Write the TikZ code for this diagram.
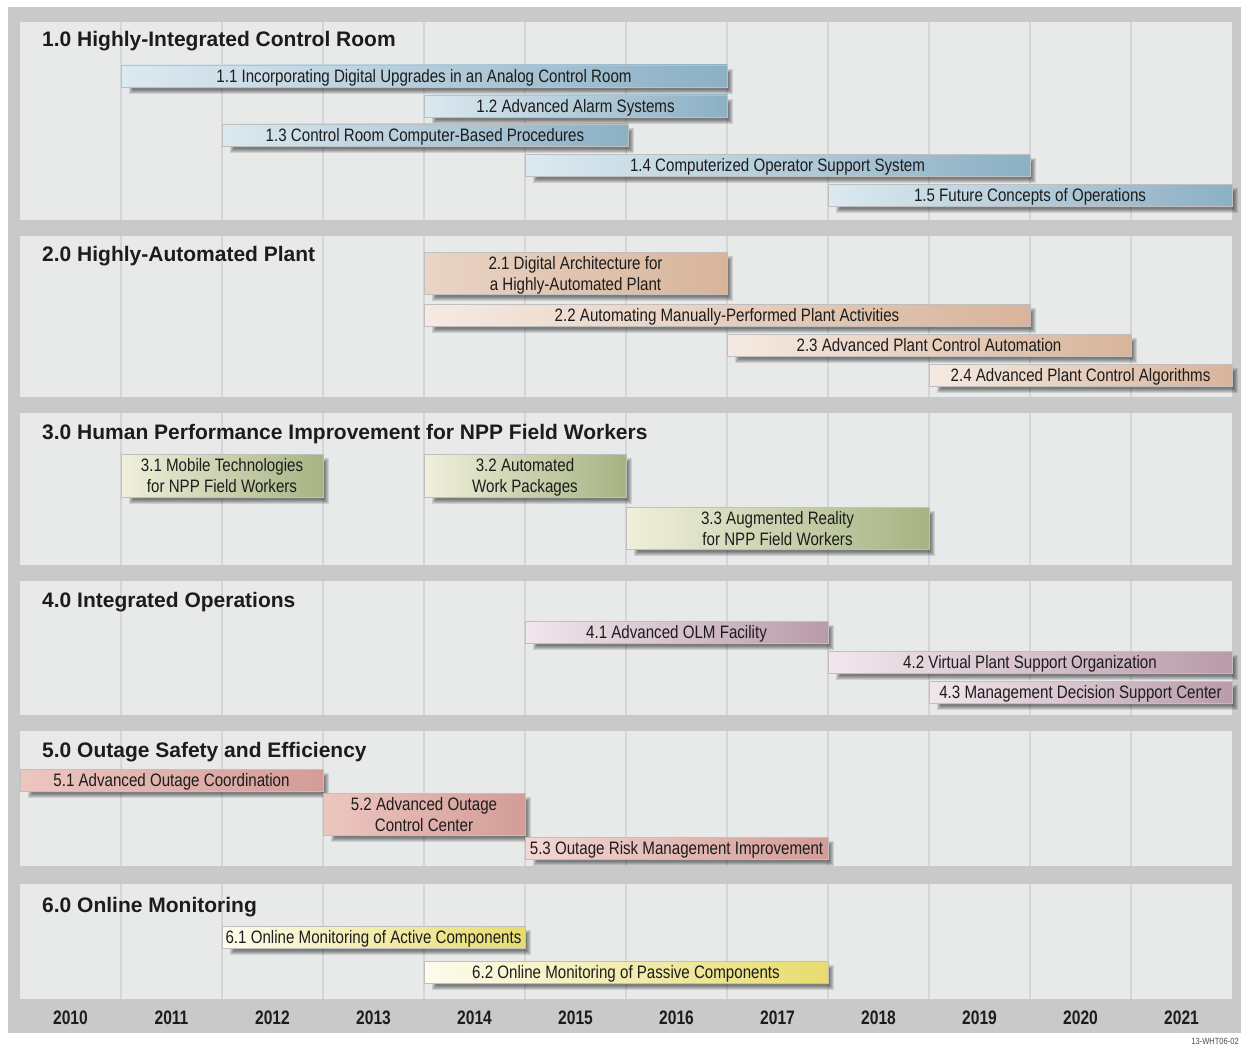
\documentclass[tikz,border=0pt]{standalone}
\usepackage{fontspec}
\setmainfont{Liberation Sans}
\newfontfamily\barfont[FakeStretch=0.84]{Liberation Sans}
\newfontfamily\yearfont[FakeStretch=0.8]{Liberation Sans}
\definecolor{bggray}{HTML}{C9C9C9}
\definecolor{panelcol}{HTML}{E8EAEA}
\definecolor{gridcol}{HTML}{D3D5D6}
\definecolor{txtcol}{HTML}{1C1C1C}
\definecolor{bluL}{HTML}{DCE9F0}\definecolor{bluR}{HTML}{8CB0C4}
\definecolor{peaL}{HTML}{F5EAE2}\definecolor{peaR}{HTML}{D8B49A}
\definecolor{grnL}{HTML}{F0F0DC}\definecolor{grnR}{HTML}{A6B382}
\definecolor{mauL}{HTML}{F2E7ED}\definecolor{mauR}{HTML}{B99BAA}
\definecolor{salL}{HTML}{EDC6C0}\definecolor{salR}{HTML}{D39C97}
\definecolor{yelL}{HTML}{FDFCEE}\definecolor{yelR}{HTML}{E8DC6E}
\tikzset{
  barbox/.style={rectangle, inner sep=0pt, draw=black!25, line width=0.5pt,
    text=txtcol, align=center, font=\barfont\fontsize{18}{21}\selectfont,
    text height=13pt, text depth=0pt},
  twoline/.style={text height=34pt, text depth=0pt},
  titlelbl/.style={inner sep=0pt, anchor=base west, text=txtcol,
    font=\bfseries\fontsize{21}{25}\selectfont},
  yearlbl/.style={inner sep=0pt, anchor=base, text=txtcol,
    font=\yearfont\bfseries\fontsize{19.5}{22}\selectfont},
  gridline/.style={draw=gridcol, line width=1.1pt},
}
% #1 extra style, #2 name, #3 x1, #4 x2, #5 y1, #6 y2, #7 left colour, #8 right colour, #9 text
\newcommand\ganttbar[9][]{%
  \foreach \k in {0,...,4}{%
    \fill[black,opacity=0.115] ({#3+12-\k},{#5+8-\k}) rectangle ({#4+2+\k},{#6+3+\k});}
  \node[barbox, #1, left color=#7, right color=#8,
        minimum width={(#4-#3)*1pt}, minimum height={(#6-#5)*1pt}]
        (#2) at ({(#3+#4)/2},{(#5+#6)/2}) {#9};
}
\newcommand\panel[2]{%
  \fill[panelcol] (20,#1) rectangle (1232,#2);
  \foreach \i in {1,...,11}{\draw[gridline] ({20+101*\i},#1) -- ({20+101*\i},#2);}
}
\begin{document}
\begin{tikzpicture}[x=1pt,y=-1pt]
\useasboundingbox (0,0) rectangle (1241,1046);
\fill[white] (0,0) rectangle (1241,1046);
\fill[bggray] (8,7) rectangle (1241,1033);
\panel{22}{220}
\panel{236}{397}
\panel{413}{565}
\panel{581}{715}
\panel{731}{866}
\panel{884}{999}
% titles
\node[titlelbl] (t1) at (42,47) {1.0 Highly-Integrated Control Room};
\node[titlelbl] (t2) at (42,261) {2.0 Highly-Automated Plant};
\node[titlelbl] (t3) at (42,439) {3.0 Human Performance Improvement for NPP Field Workers};
\node[titlelbl] (t4) at (42,607) {4.0 Integrated Operations};
\node[titlelbl] (t5) at (42,757) {5.0 Outage Safety and Efficiency};
\node[titlelbl] (t6) at (42,912) {6.0 Online Monitoring};
% bars 1
\ganttbar{b11}{121}{727}{65}{87}{bluL}{bluR}{1.1 Incorporating Digital Upgrades in an Analog Control Room}
\ganttbar{b12}{424}{727}{95}{117}{bluL}{bluR}{1.2 Advanced Alarm Systems}
\ganttbar{b13}{222}{628}{124}{146}{bluL}{bluR}{1.3 Control Room Computer-Based Procedures}
\ganttbar{b14}{525}{1030}{154}{176}{bluL}{bluR}{1.4 Computerized Operator Support System}
\ganttbar{b15}{828}{1232}{184}{206}{bluL}{bluR}{1.5 Future Concepts of Operations}
% bars 2
\ganttbar[twoline]{b21}{424}{727}{252}{294}{peaL!60!peaR}{peaR}{2.1 Digital Architecture for\\a Highly-Automated Plant}
\ganttbar{b22}{424}{1030}{304}{326}{peaL}{peaR}{2.2 Automating Manually-Performed Plant Activities}
\ganttbar{b23}{727}{1131}{334}{356}{peaL}{peaR}{2.3 Advanced Plant Control Automation}
\ganttbar{b24}{929}{1232}{364}{386}{peaL}{peaR}{2.4 Advanced Plant Control Algorithms}
% bars 3
\ganttbar[twoline]{b31}{121}{323}{454}{497}{grnL}{grnR}{3.1 Mobile Technologies\\for NPP Field Workers}
\ganttbar[twoline]{b32}{424}{626}{454}{497}{grnL}{grnR}{3.2 Automated\\Work Packages}
\ganttbar[twoline]{b33}{626}{929}{507}{549}{grnL}{grnR}{3.3 Augmented Reality\\for NPP Field Workers}
% bars 4
\ganttbar{b41}{525}{828}{621}{643}{mauL}{mauR}{4.1 Advanced OLM Facility}
\ganttbar{b42}{828}{1232}{651}{673}{mauL}{mauR}{4.2 Virtual Plant Support Organization}
\ganttbar{b43}{929}{1232}{681}{703}{mauL}{mauR}{4.3 Management Decision Support Center}
% bars 5
\ganttbar{b51}{20}{323}{769}{791}{salL}{salR}{5.1 Advanced Outage Coordination}
\ganttbar[twoline]{b52}{323}{525}{793}{835}{salL}{salR}{5.2 Advanced Outage\\Control Center}
\ganttbar{b53}{525}{828}{837}{859}{salL!70!white}{salR}{5.3 Outage Risk Management Improvement}
% bars 6
\ganttbar{b61}{222}{525}{926}{948}{yelL}{yelR}{6.1 Online Monitoring of Active Components}
\ganttbar{b62}{424}{828}{961}{983}{yelL}{yelR}{6.2 Online Monitoring of Passive Components}
% years
\foreach \yr [count=\i from 0] in {2010,...,2021}{%
  \node[yearlbl] (y\yr) at ({70.5+101*\i},1024) {\yr};}
\node[inner sep=0pt, anchor=base east, text=black!70, font=\barfont\fontsize{9}{10}\selectfont] (code) at (1239,1044) {13-WHT06-02};
\end{tikzpicture}
\end{document}
